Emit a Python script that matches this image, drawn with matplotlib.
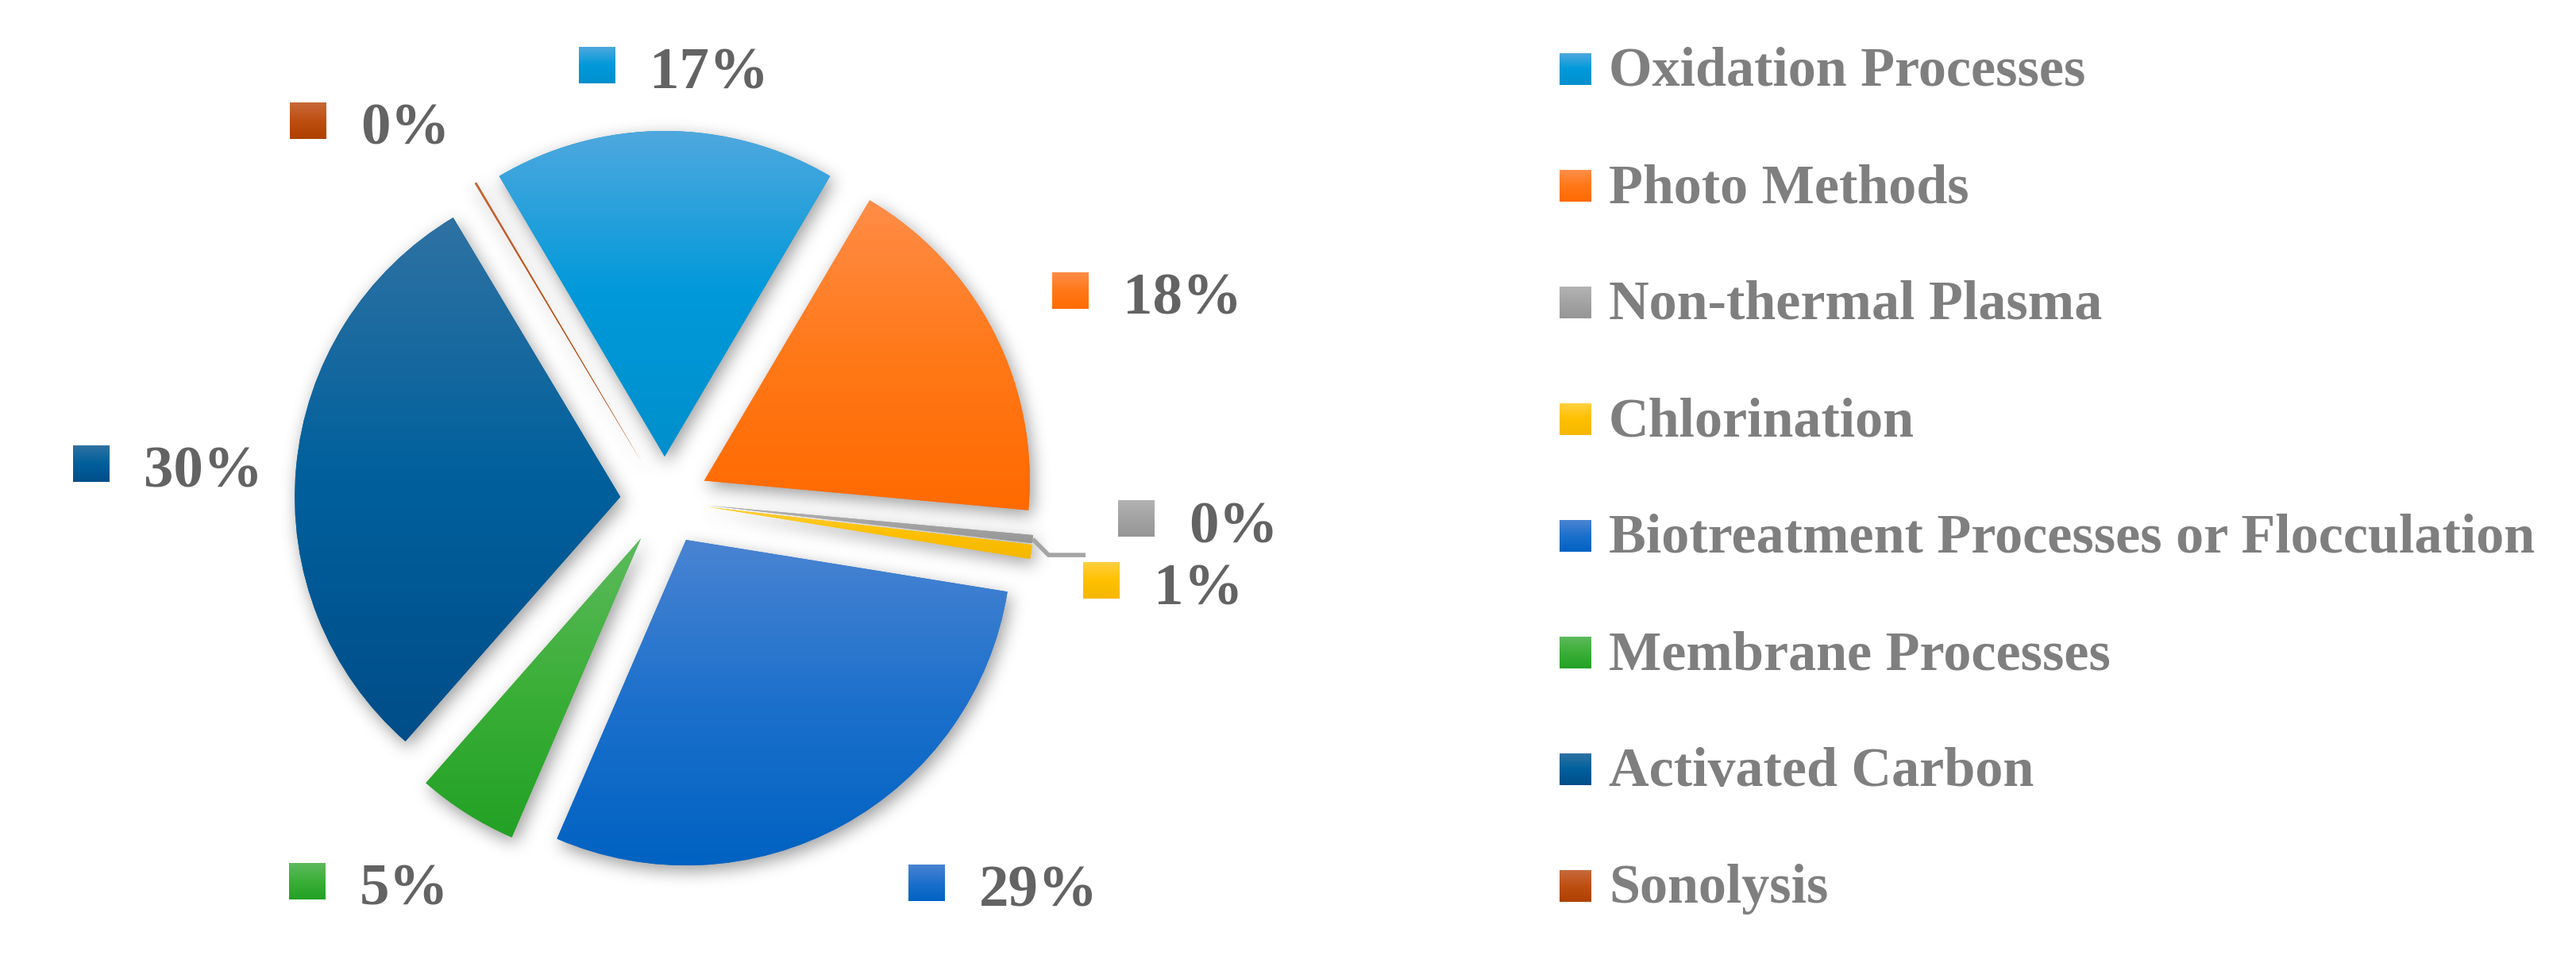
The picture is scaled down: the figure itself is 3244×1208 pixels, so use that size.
import numpy as np
import matplotlib
matplotlib.use("Agg")
import matplotlib.pyplot as plt
from matplotlib.patches import Rectangle
from matplotlib.colors import to_rgb

# ---------------- data ----------------
categories = ["Oxidation Processes", "Photo Methods", "Non-thermal Plasma", "Chlorination",
              "Biotreatment Processes or Flocculation", "Membrane Processes",
              "Activated Carbon", "Sonolysis"]
shares = [17, 18, 0.4, 0.7, 29, 5, 30, 0.1]
pct_labels = [f"{round(v / sum(shares) * 100)}%" for v in shares]

# gradient colours (top, middle, bottom) per slice
col_top = ["#4FA8DE", "#FF8D48", "#B3B3B3", "#FFD040", "#4A84D2", "#5DBA5D", "#2F72A3", "#C8693A"]
col_mid = ["#0099DA", "#FF7818", "#A3A3A3", "#FFC000", "#1C70CC", "#3BAF38", "#00609C", "#BE4F12"]
col_bot = ["#008FCC", "#FF6A00", "#969696", "#F5B800", "#0062C2", "#23A125", "#004D89", "#AE4000"]

# ---------------- layout ----------------
W, H, DPI = 3244, 1208, 100
cx, cy, R, GAP = 837, 631, 410, 56
# data-label square centres (image pixels, y downwards)
label_pos = [(752, 82), (1348, 366), (1431, 653), (1387, 731),
             (1167, 1112), (387, 1110), (115, 584), (388, 152)]
LBL_SQ = 46
LEG_X, LEG_Y0, LEG_DY, LEG_SQ = 1964, 87, 147, 40

plt.rcParams["font.family"] = ["Liberation Serif", "DejaVu Serif"]

fig = plt.figure(figsize=(W / DPI, H / DPI), dpi=DPI)
ax = fig.add_axes([0, 0, 1, 1])


def Y(y):
    return H - y


start = 90 + 180 * shares[0] / sum(shares)
wedges, _ = ax.pie(shares, colors=col_mid, startangle=start, counterclock=False,
                   radius=R, center=(cx, Y(cy)), explode=[GAP] * len(shares),
                   frame=True, wedgeprops=dict(linewidth=0, zorder=2))
ax.set_xlim(0, W)
ax.set_ylim(0, H)
ax.set_aspect("auto")
ax.axis("off")


def grad_fill(patch, top, mid, bot, zorder):
    bb = patch.get_path().get_extents(patch.get_patch_transform())
    t = np.linspace(0, 1, 256)[:, None]
    c0, c1, c2 = (np.array(to_rgb(c)) for c in (top, mid, bot))
    first = c0 + (c1 - c0) * np.clip(t / 0.5, 0, 1)
    second = c1 + (c2 - c1) * np.clip((t - 0.5) / 0.5, 0, 1)
    arr = np.where(t <= 0.5, first, second)
    arr = np.repeat(arr[:, None, :], 2, axis=1)
    im = ax.imshow(arr, extent=(bb.x0, bb.x1, bb.y0, bb.y1), origin="upper",
                   aspect="auto", interpolation="bilinear", zorder=zorder)
    im.set_clip_path(patch)


# soft drop shadow
try:
    from PIL import Image, ImageDraw, ImageFilter
    mask = Image.new("L", (W, H), 0)
    d = ImageDraw.Draw(mask)
    for w in wedges:
        v = w.get_verts()
        d.polygon([(float(x), float(H - y)) for x, y in v], fill=255)
    mask = mask.filter(ImageFilter.GaussianBlur(10))
    a = np.asarray(mask, dtype=float) / 255.0
    rgba = np.zeros((H, W, 4))
    rgba[..., :3] = 0.3
    rgba[..., 3] = a * 0.55
    dx, dy = 4, 7
    ax.imshow(rgba, extent=(dx, W + dx, -dy, H - dy), origin="upper",
              aspect="auto", interpolation="nearest", zorder=1)
except Exception:
    pass

for w, t, m, b in zip(wedges, col_top, col_mid, col_bot):
    grad_fill(w, t, m, b, zorder=2.5)

# leader line for the Non-thermal Plasma label
w_nt = wedges[2]
mid_ang = np.deg2rad((w_nt.theta1 + w_nt.theta2) / 2)
x0 = w_nt.center[0] + w_nt.r * np.cos(mid_ang)
y0 = w_nt.center[1] + w_nt.r * np.sin(mid_ang)
sx, sy = label_pos[2]
ax.plot([x0, x0 + 20, sx - 64], [y0, y0 - 20, y0 - 20], color="#A5A5A5", lw=4,
        zorder=3, solid_capstyle="butt", solid_joinstyle="miter")

# data labels
for (sx, sy), lab, t, m, b in zip(label_pos, pct_labels, col_top, col_mid, col_bot):
    sq = Rectangle((sx - LBL_SQ / 2, Y(sy) - LBL_SQ / 2), LBL_SQ, LBL_SQ,
                   facecolor=m, edgecolor="none", zorder=4)
    ax.add_patch(sq)
    grad_fill(sq, t, m, b, zorder=4.5)
    ax.text(sx + 66, Y(sy + 30), lab, fontsize=54, fontweight="bold",
            color="#636363", ha="left", va="baseline", zorder=5)

# legend
for i, (name, t, m, b) in enumerate(zip(categories, col_top, col_mid, col_bot)):
    row = LEG_Y0 + LEG_DY * i
    sq = Rectangle((LEG_X, Y(row) - LEG_SQ / 2), LEG_SQ, LEG_SQ,
                   facecolor=m, edgecolor="none", zorder=4)
    ax.add_patch(sq)
    grad_fill(sq, t, m, b, zorder=4.5)
    ax.text(LEG_X + LEG_SQ + 22, Y(row + 21), name, fontsize=50.5, fontweight="bold",
            color="#7F7F7F", ha="left", va="baseline", zorder=5)

ax.set_xlim(0, W)
ax.set_ylim(0, H)
fig.savefig("out.png", dpi=DPI, facecolor="white")
